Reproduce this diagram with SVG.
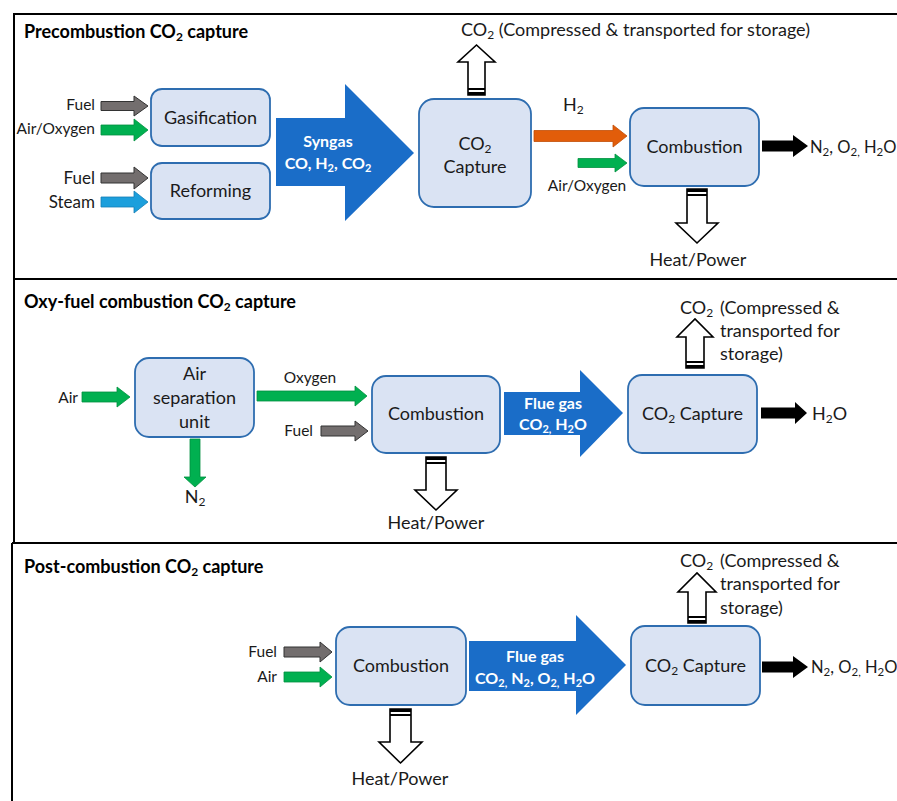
<svg xmlns="http://www.w3.org/2000/svg" width="897" height="801" viewBox="0 0 897 801">
<style>
text{font-family:Lato,"Open Sans","Liberation Sans",sans-serif;fill:#1a1a1a}
.t{font-size:18px;font-weight:bold;fill:#000}
.b{font-size:18px}
.e{font-size:16.5px}
.m{font-size:17px}
.s{font-size:15.5px}
.w{font-size:16px;font-weight:bold;fill:#fff}
.box{fill:#dae3f3;stroke:#2e6db0;stroke-width:1.8}
.frame{fill:none;stroke:#000;stroke-width:2}
.gray{fill:#736e6e;stroke:#333;stroke-width:1}
.green{fill:#00b050;stroke:#00903f;stroke-width:0.8}
.steam{fill:#1c9fdc;stroke:#147fb5;stroke-width:0.8}
.orange{fill:#e25d0a;stroke:#c24e06;stroke-width:0.8}
.blk{fill:#000}
.big{fill:#1a6dc8}
.open{fill:#fff;stroke:#000;stroke-width:1.6}
.band{fill:#000}
</style>
<g id="frames">
<path class="frame" d="M14,279 V14 H905 M14,279 H905 M14,279 V543 M12,543 H905 M12,543 V810"/>
</g>
<g id="titles">
<text class="t" x="24" y="38">Precombustion CO<tspan font-size="12" dy="3">2</tspan><tspan dy="-3"> capture</tspan></text>
<text class="t" x="24" y="308">Oxy-fuel combustion CO<tspan font-size="12" dy="3">2</tspan><tspan dy="-3"> capture</tspan></text>
<text class="t" x="24" y="573">Post-combustion CO<tspan font-size="12" dy="3">2</tspan><tspan dy="-3"> capture</tspan></text>
</g>
<g id="connectors">
<polygon class="gray" points="101,101.5 134,101.5 134,96 148,106 134,116 134,110.5 101,110.5"/>
<polygon class="green" points="101,125 134,125 134,119 148,130 134,141 134,135 101,135"/>
<polygon class="gray" points="101,173 134,173 134,167 148,178 134,189 134,183 101,183"/>
<polygon class="steam" points="101,197 134,197 134,191 148,202 134,213 134,207 101,207"/>
<polygon class="big" points="276,118 345,118 345,84 414,153 345,221 345,186 276,186"/>
<polygon class="orange" points="534,130.5 613,130.5 613,125 627,136 613,147 613,141.5 534,141.5"/>
<polygon class="green" points="578,158.5 615,158.5 615,154 627,163 615,172 615,167.5 578,167.5"/>
<polygon class="blk" points="762,140.5 793,140.5 793,135 808,146 793,157 793,151.5 762,151.5"/>
<polygon class="open" points="468,95 468,62 458,62 476.5,45 495,62 485,62 485,95"/>
<rect class="band" x="468" y="88" width="17" height="2"/><rect class="band" x="468" y="92" width="17" height="3"/>
<polygon class="open" points="687,189 707,189 707,223 718,223 697,243 676,223 687,223"/>
<rect class="band" x="687" y="189" width="20" height="3"/><rect class="band" x="687" y="194" width="20" height="2"/>
<polygon class="green" points="82,392 117,392 117,387 130,397 117,407 117,402 82,402"/>
<polygon class="green" points="190,439 200,439 200,477 206,477 195,487 184,477 190,477"/>
<polygon class="green" points="257,391 355,391 355,386 367,396 355,406 355,401 257,401"/>
<polygon class="gray" points="321,426 355,426 355,421 368,431 355,441 355,436 321,436"/>
<polygon class="big" points="504,392 580,392 580,370 623,413 580,457 580,435 504,435"/>
<polygon class="blk" points="761,407.5 795,407.5 795,402 807,413 795,424 795,418.5 761,418.5"/>
<polygon class="open" points="686,368 686,337 677,337 695,319 713,337 704,337 704,368"/>
<rect class="band" x="686" y="361" width="18" height="2"/><rect class="band" x="686" y="365" width="18" height="3"/>
<polygon class="open" points="426,457 446,457 446,490 457,490 436,510 415,490 426,490"/>
<rect class="band" x="426" y="457" width="20" height="3"/><rect class="band" x="426" y="462" width="20" height="2"/>
<polygon class="gray" points="284,647 320,647 320,642 332,652 320,662 320,657 284,657"/>
<polygon class="green" points="284,672 320,672 320,667 332,677 320,687 320,682 284,682"/>
<polygon class="big" points="469,641 576,641 576,615 626,665 576,715 576,691 469,691"/>
<polygon class="blk" points="762,661.5 793,661.5 793,656 808,667 793,678 793,672.5 762,672.5"/>
<polygon class="open" points="688,623 688,592 678,592 697,573 716,592 706,592 706,623"/>
<rect class="band" x="688" y="616" width="18" height="2"/><rect class="band" x="688" y="620" width="18" height="3"/>
<polygon class="open" points="390,709 411,709 411,742 422,742 400.5,763 379,742 390,742"/>
<rect class="band" x="390" y="709" width="21" height="3"/><rect class="band" x="390" y="714" width="21" height="2"/>
</g>
<g id="gasification"><rect class="box" x="151" y="89" width="119" height="57" rx="11"/><text class="b" x="210.5" y="124" text-anchor="middle">Gasification</text></g>
<g id="reforming"><rect class="box" x="151" y="163" width="119" height="56" rx="11"/><text class="b" x="210.5" y="197" text-anchor="middle">Reforming</text></g>
<g id="co2capture1"><rect class="box" x="419" y="99" width="112" height="108" rx="15"/><text class="b" x="475" y="150" text-anchor="middle">CO<tspan font-size="12" dy="2.5">2</tspan></text><text class="b" x="475" y="173" text-anchor="middle">Capture</text></g>
<g id="combustion1"><rect class="box" x="630" y="108" width="129" height="78" rx="14"/><text class="b" x="694.5" y="153" text-anchor="middle">Combustion</text></g>
<g id="asu"><rect class="box" x="135" y="358" width="119" height="79" rx="14"/><text class="b" x="194.5" y="380" text-anchor="middle">Air</text><text class="b" x="194.5" y="404" text-anchor="middle">separation</text><text class="b" x="194.5" y="428" text-anchor="middle">unit</text></g>
<g id="combustion2"><rect class="box" x="372" y="376" width="128" height="77" rx="14"/><text class="b" x="436" y="420" text-anchor="middle">Combustion</text></g>
<g id="co2capture2"><rect class="box" x="628" y="375" width="129" height="78" rx="14"/><text class="b" x="692.5" y="420" text-anchor="middle">CO<tspan font-size="12" dy="3">2</tspan><tspan dy="-3"> Capture</tspan></text></g>
<g id="combustion3"><rect class="box" x="336" y="627" width="130" height="78" rx="14"/><text class="b" x="401" y="672" text-anchor="middle">Combustion</text></g>
<g id="co2capture3"><rect class="box" x="631" y="626" width="129" height="79" rx="14"/><text class="b" x="695.5" y="672" text-anchor="middle">CO<tspan font-size="12" dy="3">2</tspan><tspan dy="-3"> Capture</tspan></text></g>
<g id="labels">
<text class="s" x="95" y="110" text-anchor="end">Fuel</text>
<text class="s" x="95" y="134" text-anchor="end">Air/Oxygen</text>
<text class="m" x="95" y="184" text-anchor="end">Fuel</text>
<text class="m" x="95" y="208" text-anchor="end">Steam</text>
<text class="w" x="328" y="147" text-anchor="middle">Syngas</text>
<text class="w" x="328" y="169" text-anchor="middle">CO, H<tspan font-size="11" dy="3">2</tspan><tspan dy="-3">, CO</tspan><tspan font-size="11" dy="3">2</tspan></text>
<text class="b" x="461" y="36">CO<tspan font-size="12" dy="3">2</tspan><tspan dy="-3"> (Compressed &amp; transported for storage)</tspan></text>
<text class="b" x="563" y="111">H<tspan font-size="12" dy="3">2</tspan></text>
<text class="s" x="587" y="191" text-anchor="middle">Air/Oxygen</text>
<text class="e" x="810" y="153">N<tspan font-size="11.5" dy="3">2</tspan><tspan dy="-3">, O</tspan><tspan font-size="11.5" dy="3">2,</tspan><tspan dy="-3"> H</tspan><tspan font-size="11.5" dy="3">2</tspan><tspan dy="-3">O</tspan></text>
<text class="b" x="698" y="266" text-anchor="middle">Heat/Power</text>
<text class="s" x="78" y="403" text-anchor="end">Air</text>
<text class="b" x="195" y="503" text-anchor="middle">N<tspan font-size="12" dy="3">2</tspan></text>
<text class="s" x="310" y="383" text-anchor="middle">Oxygen</text>
<text class="s" x="313" y="436" text-anchor="end">Fuel</text>
<text class="b" x="436" y="529" text-anchor="middle">Heat/Power</text>
<text class="w" x="553" y="409" text-anchor="middle">Flue gas</text>
<text class="w" x="553" y="430" text-anchor="middle">CO<tspan font-size="11" dy="3">2,</tspan><tspan dy="-3"> H</tspan><tspan font-size="11" dy="3">2</tspan><tspan dy="-3">O</tspan></text>
<text class="b" x="680" y="314">CO<tspan font-size="12" dy="3">2</tspan></text>
<text class="b" x="720" y="314">(Compressed &amp;</text>
<text class="b" x="720" y="337">transported for</text>
<text class="b" x="720" y="360">storage)</text>
<text class="b" x="812" y="420">H<tspan font-size="12" dy="3">2</tspan><tspan dy="-3">O</tspan></text>
<text class="s" x="277" y="657" text-anchor="end">Fuel</text>
<text class="s" x="277" y="682" text-anchor="end">Air</text>
<text class="b" x="400" y="785" text-anchor="middle">Heat/Power</text>
<text class="w" x="535" y="662" text-anchor="middle">Flue gas</text>
<text class="w" x="535" y="684" text-anchor="middle">CO<tspan font-size="11" dy="3">2,</tspan><tspan dy="-3"> N</tspan><tspan font-size="11" dy="3">2</tspan><tspan dy="-3">, O</tspan><tspan font-size="11" dy="3">2,</tspan><tspan dy="-3"> H</tspan><tspan font-size="11" dy="3">2</tspan><tspan dy="-3">O</tspan></text>
<text class="b" x="680" y="567">CO<tspan font-size="12" dy="3">2</tspan></text>
<text class="b" x="720" y="567">(Compressed &amp;</text>
<text class="b" x="720" y="590">transported for</text>
<text class="b" x="720" y="614">storage)</text>
<text class="e" x="811" y="673">N<tspan font-size="11.5" dy="3">2</tspan><tspan dy="-3">, O</tspan><tspan font-size="11.5" dy="3">2,</tspan><tspan dy="-3"> H</tspan><tspan font-size="11.5" dy="3">2</tspan><tspan dy="-3">O</tspan></text>
</g>
</svg>
